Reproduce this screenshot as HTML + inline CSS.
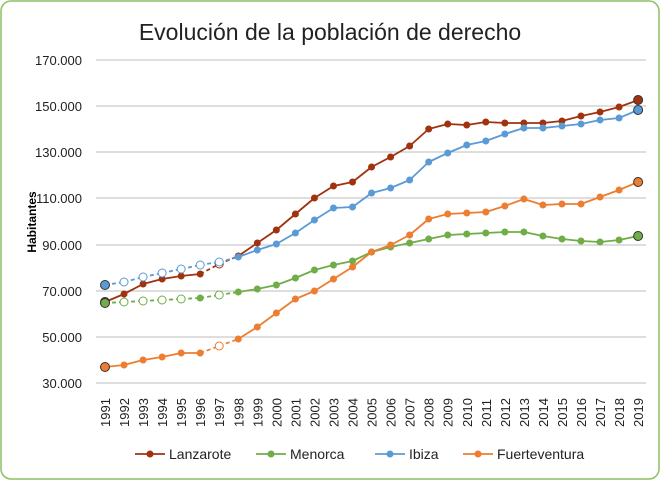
<!DOCTYPE html>
<html><head><meta charset="utf-8"><style>
html,body{margin:0;padding:0;background:#fff;}
svg{display:block;font-family:"Liberation Sans",sans-serif;}
</style></head><body>
<svg id="s" width="660" height="480" xmlns="http://www.w3.org/2000/svg">
<rect x="1" y="1" width="658" height="478" rx="10" fill="#fff" stroke="#8cc063" stroke-width="1.5"/>
<text x="330" y="40" font-size="23" text-anchor="middle" fill="#222">Evolución de la población de derecho</text>
<text transform="translate(36,222) rotate(-90)" font-size="12" font-weight="bold" text-anchor="middle" fill="#000">Habitantes</text>
<g id="g"></g>
</svg>
<script>
var g=document.getElementById('g'),h='';
var ys=[60,106,152,198,245,291,337,383],lab=['170.000','150.000','130.000','110.000','90.000','70.000','50.000','30.000'];
for(var i=0;i<8;i++){h+='<line x1="96" x2="646" y1="'+ys[i]+'" y2="'+ys[i]+'" stroke="#bdbdbd" stroke-width="1"/>';
h+='<text x="82" y="'+(ys[i]+5)+'" font-size="13" text-anchor="end" fill="#222">'+lab[i]+'</text>';}
function X(i){return 105+19.04*i;}
for(var i=0;i<29;i++){h+='<text transform="translate('+(X(i)+5)+',427) rotate(-90)" font-size="13" fill="#222">'+(1991+i)+'</text>';}
var S=[
{c:'#a1320f',y:[302,294,284,279,276,274,264,256,243,230,214,198,186,182,167,157,146,129,124,125,122,123,123,123,121,116,112,107,100],h:[6]},
{c:'#70ad47',y:[303,302,301,300,299,298,295,292,289,285,278,270,265,261,252,247,243,239,235,234,233,232,232,236,239,241,242,240,236],h:[1,2,3,4,6]},
{c:'#5b9bd5',y:[285,282,277,273,269,265,262,257,250,244,233,220,208,207,193,188,180,162,153,145,141,134,128,128,126,124,120,118,110],h:[1,2,3,4,5,6]},
{c:'#ed7d31',y:[367,365,360,357,353,353,346,339,327,313,299,291,279,267,252,245,235,219,214,213,212,206,199,205,204,204,197,190,182],h:[6]}];
S.forEach(function(s){
for(var i=0;i<28;i++){var d=(s.h.indexOf(i)>=0||s.h.indexOf(i+1)>=0);
h+='<line x1="'+X(i)+'" y1="'+s.y[i]+'" x2="'+X(i+1)+'" y2="'+s.y[i+1]+'" stroke="'+s.c+'" stroke-width="1.8"'+(d?' stroke-dasharray="4,3"':'')+'/>';}
for(var i=0;i<29;i++){
if(i==0||i==28)h+='<circle cx="'+X(i)+'" cy="'+s.y[i]+'" r="4.5" fill="'+s.c+'" stroke="#333" stroke-width="1"/>';
else if(s.h.indexOf(i)>=0)h+='<circle cx="'+X(i)+'" cy="'+s.y[i]+'" r="4" fill="#fff" stroke="'+s.c+'" stroke-width="1"/>';
else h+='<circle cx="'+X(i)+'" cy="'+s.y[i]+'" r="3.5" fill="'+s.c+'"/>';}
});
var L=[['Lanzarote',135],['Menorca',256],['Ibiza',375],['Fuerteventura',463]];
L.forEach(function(l,k){var c=S[k].c;
h+='<line x1="'+l[1]+'" x2="'+(l[1]+30)+'" y1="454" y2="454" stroke="'+c+'" stroke-width="1.8"/><circle cx="'+(l[1]+15)+'" cy="454" r="3.5" fill="'+c+'"/>';
h+='<text x="'+(l[1]+34)+'" y="459" font-size="14" fill="#222">'+l[0]+'</text>';});
g.innerHTML=h;
</script>
</body></html>
